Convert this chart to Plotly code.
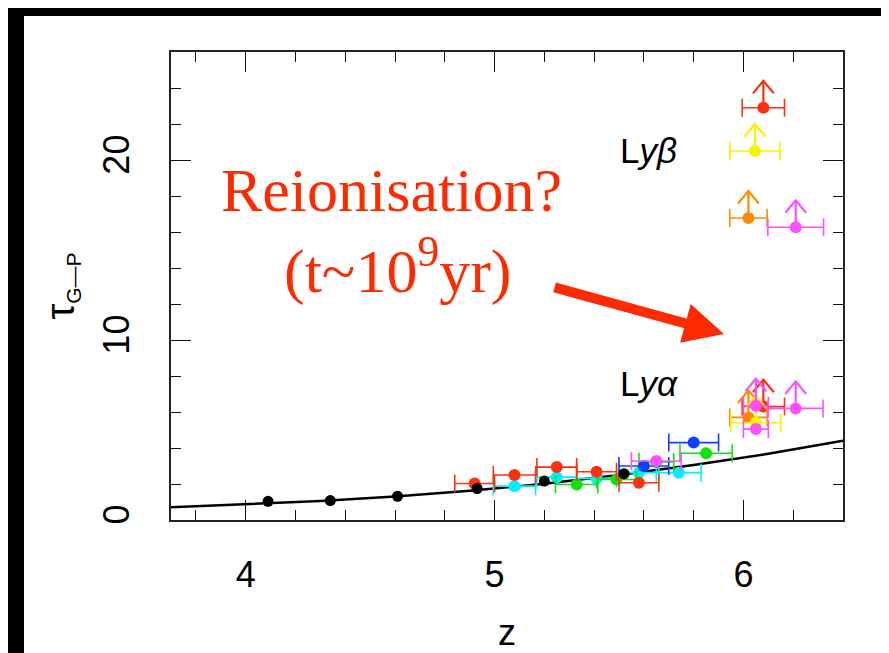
import plotly.graph_objects as go

# ---------------- data ----------------
curve_z = [3.7, 4.0, 4.3, 4.6, 4.9, 5.2, 5.5, 5.8, 6.1, 6.4]
curve_tau = [0.71, 0.88, 1.06, 1.30, 1.62, 2.02, 2.50, 3.05, 3.68, 4.40]

black_z = [4.09, 4.34, 4.61, 4.93, 5.20, 5.52]
black_tau = [1.04, 1.08, 1.32, 1.75, 2.16, 2.57]

red_z = [4.92, 5.08, 5.25, 5.41, 5.58, 6.08, 6.08]
red_tau = [2.03, 2.50, 2.94, 2.68, 2.07, 6.30, 22.9]
red_dz = [0.08, 0.085, 0.08, 0.08, 0.08, 0.085, 0.085]
red_lim = [False, False, False, False, False, True, True]

cyan_z = [5.08, 5.25, 5.41, 5.58, 5.74]
cyan_tau = [1.88, 2.38, 2.31, 2.63, 2.63]
cyan_dz = [0.085, 0.08, 0.08, 0.08, 0.09]
cyan_lim = [False, False, False, False, False]

green_z = [5.33, 5.49, 5.65, 5.85]
green_tau = [1.97, 2.25, 3.22, 3.71]
green_dz = [0.085, 0.08, 0.07, 0.105]
green_lim = [False, False, False, False]

blue_z = [5.60, 5.80]
blue_tau = [3.00, 4.30]
blue_dz = [0.10, 0.10]
blue_lim = [False, False]

magenta_z = [5.65, 6.05, 6.05, 6.21, 6.21]
magenta_tau = [3.28, 5.05, 6.35, 6.20, 16.26]
magenta_dz = [0.10, 0.05, 0.05, 0.11, 0.112]
magenta_lim = [False, False, True, True, True]

orange_z = [6.02, 6.02]
orange_tau = [5.70, 16.78]
orange_dz = [0.075, 0.075]
orange_lim = [True, True]

yellow_z = [6.05, 6.046]
yellow_tau = [5.40, 20.5]
yellow_dz = [0.10, 0.10]
yellow_lim = [True, True]

x_ticks = [4, 5, 6]
y_ticks = [0, 10, 20]

# ---------------- style ----------------
RED = "#FF2A00"
series = [
    (cyan_z, cyan_tau, cyan_dz, cyan_lim, "#00F0FF"),
    (green_z, green_tau, green_dz, green_lim, "#11E011"),
    (red_z, red_tau, red_dz, red_lim, "#FF3010"),
    (blue_z, blue_tau, blue_dz, blue_lim, "#1040FF"),
    (orange_z, orange_tau, orange_dz, orange_lim, "#FF8C00"),
    (yellow_z, yellow_tau, yellow_dz, yellow_lim, "#F5F500"),
    (magenta_z, magenta_tau, magenta_dz, magenta_lim, "#FF50FF"),
]
ARROW_LEN = 1.5
CHEV_DX = 0.042
CHEV_DY = 0.7

fig = go.Figure()

fig.add_trace(go.Scatter(x=curve_z, y=curve_tau, mode="lines",
                         line=dict(color="black", width=2.5), hoverinfo="skip"))

for zs, ts, dzs, lims, col in series:
    ax, ay = [], []
    for z, t, lim in zip(zs, ts, lims):
        if lim:
            top = t + ARROW_LEN
            ax += [z, z, None, z - CHEV_DX, z, z + CHEV_DX, None]
            ay += [t, top, None, top - CHEV_DY, top, top - CHEV_DY, None]
    if ax:
        fig.add_trace(go.Scatter(x=ax, y=ay, mode="lines",
                                 line=dict(color=col, width=2.2), hoverinfo="skip"))
    fig.add_trace(go.Scatter(
        x=zs, y=ts, mode="markers",
        marker=dict(color=col, size=12, line=dict(width=0)),
        error_x=dict(type="data", array=dzs, color=col, thickness=1.6, width=9),
    ))

fig.add_trace(go.Scatter(x=black_z, y=black_tau, mode="markers",
                         marker=dict(color="black", size=11)))

axis_common = dict(
    showline=True, linecolor="#222", linewidth=1.6, mirror="allticks",
    ticks="inside", ticklen=20, tickwidth=1.3, tickcolor="#111",
    showgrid=False, zeroline=False, automargin=False,
    tickfont=dict(family="Liberation Sans", size=36, color="black"),
)

fig.update_xaxes(
    range=[3.7, 6.4], tickvals=x_ticks, ticktext=[str(v) for v in x_ticks],
    minor=dict(dtick=0.2, ticks="inside", ticklen=10, tickwidth=1.2, tickcolor="#111"),
    ticklabelstandoff=22,
    title=dict(text="z", font=dict(family="Liberation Sans", size=36, color="black"),
               standoff=26),
    **axis_common,
)
fig.update_yaxes(
    range=[0, 26], tickvals=y_ticks, ticktext=[str(v) for v in y_ticks],
    tickangle=-90,
    minor=dict(dtick=2, ticks="inside", ticklen=10, tickwidth=1.2, tickcolor="#111"),
    ticklabelstandoff=26,
    title=dict(text="<span style='font-size:40px'>τ</span><sub>G—P</sub>",
               font=dict(family="Liberation Sans", size=30, color="black"),
               standoff=12),
    **axis_common,
)

W, H = 889, 653
L, R, T, B = 163, 54, 44, 141
PW, PH = W - L - R, H - T - B


def px(xp):
    return (xp - L) / PW


def py(yp):
    return (H - B - yp) / PH


fig.add_annotation(text="Reionisation?", xref="paper", yref="paper",
                   x=px(383), y=py(182), xanchor="center", yanchor="middle",
                   showarrow=False,
                   font=dict(family="Liberation Serif", size=62, color=RED))
fig.add_annotation(text="(t~10<sup>9</sup>yr)", xref="paper", yref="paper",
                   x=px(389), y=py(258), xanchor="center", yanchor="middle",
                   showarrow=False,
                   font=dict(family="Liberation Serif", size=62, color=RED))
fig.add_annotation(text="", xref="paper", yref="paper",
                   x=px(716), y=py(326), ax=545 - 716, ay=279 - 326,
                   axref="pixel", ayref="pixel", showarrow=True,
                   arrowhead=2, arrowsize=0.8, arrowwidth=10, arrowcolor=RED)
fig.add_annotation(text="L<i>yβ</i>", xref="paper", yref="paper",
                   x=px(610), y=py(142), xanchor="left", yanchor="middle",
                   showarrow=False,
                   font=dict(family="Liberation Sans", size=35, color="black"))
fig.add_annotation(text="L<i>yα</i>", xref="paper", yref="paper",
                   x=px(610), y=py(376), xanchor="left", yanchor="middle",
                   showarrow=False,
                   font=dict(family="Liberation Sans", size=35, color="black"))

# black page border on the left and top
fig.add_shape(type="rect", xref="paper", yref="paper", layer="below",
              x0=px(0), x1=px(16), y0=py(H), y1=py(0),
              fillcolor="black", line=dict(width=0))
fig.add_shape(type="rect", xref="paper", yref="paper", layer="below",
              x0=px(0), x1=px(W), y0=py(8), y1=py(0),
              fillcolor="black", line=dict(width=0))

fig.update_layout(
    width=W, height=H, margin=dict(l=L, r=R, t=T, b=B),
    paper_bgcolor="white", plot_bgcolor="white", showlegend=False,
)

fig.write_html("out.html")
